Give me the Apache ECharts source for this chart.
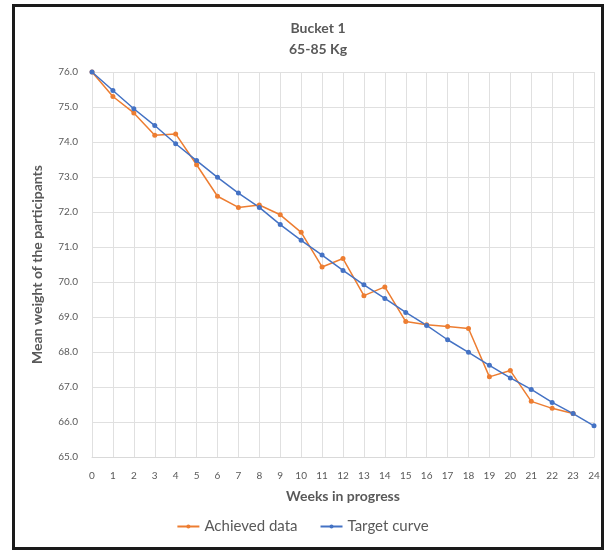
<!DOCTYPE html>
<html>
<head>
<meta charset="utf-8">
<script src="https://cdn.jsdelivr.net/npm/echarts@6/dist/echarts.min.js"></script>
<style>
html,body{margin:0;padding:0;background:#fff;}
#chart{width:605px;height:552px;}
</style>
</head>
<body>
<div id="chart"></div>
<script>
var weeks = ['0','1','2','3','4','5','6','7','8','9','10','11','12','13','14','15','16','17','18','19','20','21','22','23','24'];
var achieved = [76.0, 75.30, 74.83, 74.19, 74.23, 73.35, 72.45, 72.13, 72.20, 71.92, 71.42, 70.43, 70.67, 69.61, 69.86, 68.87, 68.78, 68.73, 68.67, 67.29, 67.47, 66.59, 66.39, 66.24, null];
var target = [76.0, 75.47, 74.95, 74.47, 73.95, 73.47, 72.99, 72.54, 72.13, 71.64, 71.19, 70.77, 70.33, 69.92, 69.53, 69.13, 68.76, 68.35, 67.99, 67.62, 67.26, 66.93, 66.56, 66.24, 65.89];
var titleLines = ['Bucket 1', '65-85 Kg'];

var chart = echarts.init(document.getElementById('chart'));
var txt = '#595959';
var font = 'Lato, "Open Sans", sans-serif';
chart.setOption({
  animation: false,
  backgroundColor: '#fff',
  title: {
    text: titleLines.join('\n'),
    left: 313, top: 13, textAlign: 'center',
    textStyle: {fontFamily: font, fontSize: 14, fontWeight: 'bold', color: txt, lineHeight: 21}
  },
  legend: {
    data: ['Achieved data', 'Target curve'],
    left: 'center', top: 514,
    itemWidth: 22, itemHeight: 5, itemGap: 22,
    textStyle: {fontFamily: font, fontSize: 15, color: txt}
  },
  grid: {left: 92, right: 11, top: 72, bottom: 95, containLabel: false},
  xAxis: {
    type: 'category', data: weeks, boundaryGap: false,
    name: 'Weeks in progress', nameLocation: 'middle', nameGap: 32,
    nameTextStyle: {fontFamily: font, fontSize: 14, fontWeight: 'bold', color: txt},
    axisLine: {show: true, lineStyle: {color: '#d9d9d9'}},
    axisTick: {show: false},
    axisLabel: {fontFamily: font, fontSize: 10, color: txt, margin: 14, interval: 0},
    splitLine: {show: true, lineStyle: {color: '#e0e0e0'}}
  },
  yAxis: {
    type: 'value', min: 65, max: 76, interval: 1,
    name: 'Mean weight of the participants', nameLocation: 'middle', nameGap: 48,
    nameTextStyle: {fontFamily: font, fontSize: 14, fontWeight: 'bold', color: txt},
    axisLine: {show: false}, axisTick: {show: false},
    axisLabel: {fontFamily: font, fontSize: 10, color: txt, margin: 14, formatter: function(v){return v.toFixed(1);}},
    splitLine: {show: true, lineStyle: {color: '#e0e0e0'}}
  },
  series: [
    {name: 'Achieved data', type: 'line', data: achieved,
     itemStyle: {color: '#ED7D31'}, lineStyle: {color: '#ED7D31', width: 1.5},
     symbol: 'circle', symbolSize: 5, connectNulls: false},
    {name: 'Target curve', type: 'line', data: target,
     itemStyle: {color: '#4472C4'}, lineStyle: {color: '#4472C4', width: 1.5},
     symbol: 'circle', symbolSize: 5}
  ],
  graphic: [{
    type: 'rect', shape: {x: 13.5, y: 5.5, width: 589, height: 543},
    style: {fill: null, stroke: '#1a1a1a', lineWidth: 3}, silent: true
  }]
});
</script>
</body>
</html>
